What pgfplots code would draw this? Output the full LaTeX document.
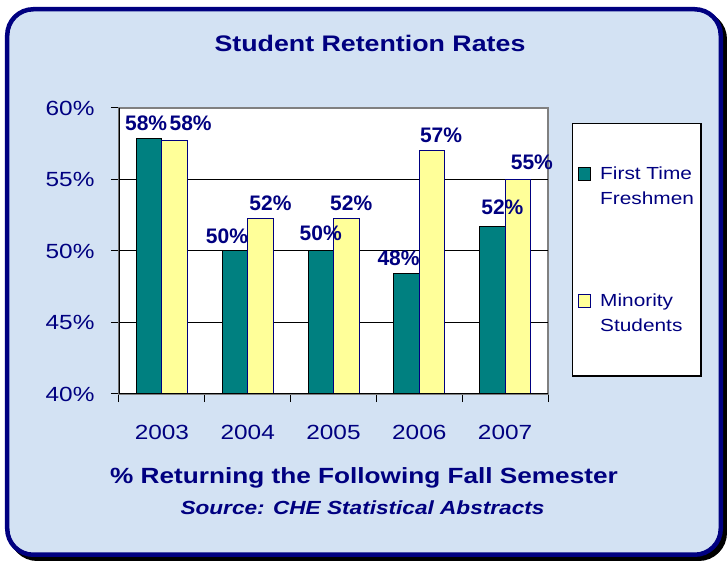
\documentclass[border=0pt]{standalone}
\usepackage{fontspec}
\setmainfont{Liberation Sans}
\newfontfamily\wide[FakeStretch=1.19]{Liberation Sans}
\usepackage{pgfplots}
\pgfplotsset{compat=1.18}
\usepackage{pgfplotstable}
\usetikzlibrary{backgrounds}

\definecolor{navy}{HTML}{000080}
\definecolor{teal}{HTML}{008080}
\definecolor{paleyellow}{HTML}{FFFF99}
\definecolor{cardbg}{HTML}{D3E2F3}

% x = year index, y = retention (%), dx/dy = label offsets
\pgfplotstableread{
x y dx dy
0 57.9 -3 7.6
1 50.0 -8 7
2 50.0 0 10
3 48.4 -8 8.6
4 51.7 10 12
}\freshmen
\pgfplotstableread{
x y dx dy
0 57.7 16 10
1 52.3 10 8
2 52.3 5 8
3 57.0 9 8
4 55.0 14 10
}\minority

\begin{document}
\begin{tikzpicture}[x=1bp,y=1bp]
\begin{axis}[
    scale only axis, width=429bp, height=286bp,
    ybar=0pt, bar width=25.5bp,
    xmin=-0.5, xmax=4.5, ymin=40, ymax=60,
    xtick={-0.5,0.5,...,4.5}, xticklabels={},
    extra x ticks={0,1,2,3,4},
    extra x tick labels={2003,2004,2005,2006,2007},
    extra x tick style={major tick length=0pt},
    ytick={40,45,...,60},
    yticklabels={40\%,45\%,50\%,55\%,60\%},
    extra y ticks={45,50,55}, extra y tick labels={},
    extra y tick style={grid=major, major tick length=0pt},
    grid style={black, line width=1bp},
    tick pos=left, tick align=outside, major tick length=8bp,
    tick style={black, line width=1bp},
    axis line style={draw=black!50, line width=1.2bp},
    axis background/.style={fill=white},
    /pgf/number format/assume math mode=true,
    tick label style={font=\wide\fontsize{20.5bp}{24bp}\selectfont, text=navy},
    xticklabel style={anchor=base, yshift=-45bp},
    yticklabel style={xshift=-13bp},
    title={Student Retention Rates},
    title style={at={(axis description cs:0.585,1)}, anchor=base, yshift=51bp,
        font=\wide\bfseries\fontsize{22.5bp}{26bp}\selectfont, text=navy},
    xlabel={\% Returning the Following Fall Semester},
    xlabel style={at={(axis description cs:0.571,0)}, anchor=base, yshift=-89bp,
        font=\wide\bfseries\fontsize{22bp}{26bp}\selectfont, text=navy},
    legend style={at={(axis description cs:1.056,0.9476)}, anchor=north west,
        draw=black, line width=1.2bp, fill=white,
        font=\wide\fontsize{17.5bp}{25bp}\selectfont, text=navy,
        inner xsep=5bp, inner ysep=41bp, row sep=84bp, column sep=7bp,
        cells={align=left, anchor=west}},
    legend image code/.code={\draw[#1, line width=1bp] (0bp,6bp) rectangle (12.6bp,18.6bp);},
    nodes near coords={\pgfmathprintnumber[fixed,precision=0]{\pgfplotspointmeta}\%},
    every node near coord/.append style={font=\bfseries\fontsize{21bp}{24bp}\selectfont,
        text=navy, anchor=base, inner sep=0pt, xshift=\dx bp, yshift=\dy bp},
    visualization depends on={\thisrow{dx} \as \dx},
    visualization depends on={\thisrow{dy} \as \dy},
]
\addplot[fill=teal, draw=black, line width=1bp] table[x=x,y=y] {\freshmen};
\addlegendentry{First Time\\Freshmen}
\addplot[fill=paleyellow, draw=navy, line width=1bp] table[x=x,y=y] {\minority};
\addlegendentry{Minority\\Students}
\draw[black, line width=1.2bp] (rel axis cs:0,1) -- (rel axis cs:0,0) -- (rel axis cs:1,0);
\coordinate (A) at (rel axis cs:0,0);
\end{axis}

% card and source line, placed so that the plot box corner sits at (119,171)
\begin{scope}[shift={(A)}]
\begin{scope}[shift={(-119,-171)}]
\begin{pgfonlayer}{background}
\path (0,0) rectangle (727,565);
\draw[black, fill=black, line width=4.5bp, rounded corners=26bp] (11.25,6.25) rectangle (724.75,551.75);
\draw[navy, fill=cardbg, line width=4.5bp, rounded corners=26bp] (7.25,10.25) rectangle (720.75,555.75);
\end{pgfonlayer}
\node[anchor=base, text=navy, font=\wide\bfseries\itshape\fontsize{19bp}{22bp}\selectfont]
    at (362.5,50.3) {Source: CHE Statistical Abstracts};
\end{scope}
\end{scope}
\end{tikzpicture}
\end{document}
